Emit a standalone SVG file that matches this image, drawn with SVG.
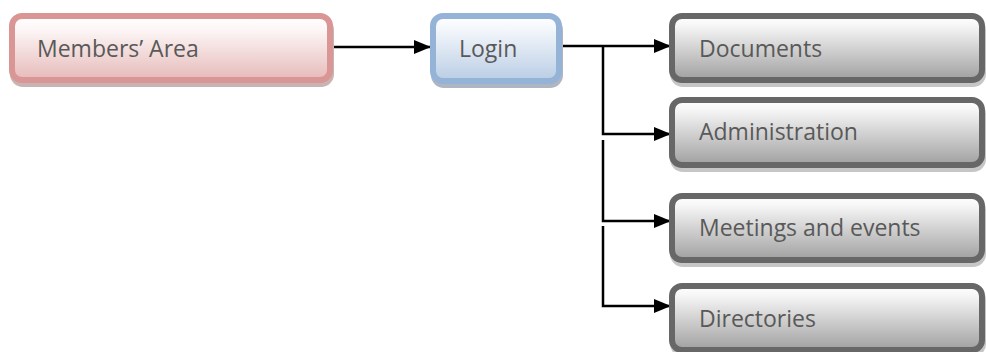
<svg xmlns="http://www.w3.org/2000/svg" width="986" height="352" viewBox="0 0 986 352">
  <defs>
    <linearGradient id="gPink" x1="0" y1="0" x2="0" y2="1">
      <stop offset="0" stop-color="#ffffff"/>
      <stop offset="0.2" stop-color="#fdf7f7"/>
      <stop offset="1" stop-color="#e6bab9"/>
    </linearGradient>
    <linearGradient id="gBlue" x1="0" y1="0" x2="0" y2="1">
      <stop offset="0" stop-color="#ffffff"/>
      <stop offset="0.2" stop-color="#f4f7fb"/>
      <stop offset="1" stop-color="#b9cde5"/>
    </linearGradient>
    <linearGradient id="gGray" x1="0" y1="0" x2="0" y2="1">
      <stop offset="0" stop-color="#ffffff"/>
      <stop offset="0.15" stop-color="#f6f6f6"/>
      <stop offset="1" stop-color="#a0a0a0"/>
    </linearGradient>
    <marker id="arrow" markerUnits="userSpaceOnUse" markerWidth="17" markerHeight="14" refX="17" refY="7" orient="auto">
      <path d="M0,0 L17,7 L0,14 Z" fill="#000"/>
    </marker>
  </defs>
  <style>
    .lbl { font-family: "Open Sans", "Noto Sans", "Liberation Sans", sans-serif; font-size: 23px; fill: #595959; }
    .pink { fill: url(#gPink); stroke: #d99694; stroke-width: 6; }
    .blue { fill: url(#gBlue); stroke: #95b3d7; stroke-width: 6; }
    .gray { fill: url(#gGray); stroke: #676767; stroke-width: 6; }
    .shadowP { fill: none; stroke: #c9b3b3; stroke-width: 6; }
    .shadowB { fill: none; stroke: #adb6c2; stroke-width: 6; }
    .shadowG { fill: none; stroke: #c6c6c6; stroke-width: 6; }
    .conn { fill: none; stroke: #000; stroke-width: 2.5; }
  </style>

  <g id="connectors">
    <path class="conn" d="M333,47 L431,47" marker-end="url(#arrow)"/>
    <path class="conn" d="M555,46 L671,46" marker-end="url(#arrow)"/>
    <path class="conn" d="M603,46 L603,134 L671,134" marker-end="url(#arrow)"/>
    <path class="conn" d="M603,140 L603,221 L671,221" marker-end="url(#arrow)"/>
    <path class="conn" d="M603,226 L603,306 L671,306" marker-end="url(#arrow)"/>
  </g>

  <g id="node-members">
    <rect class="shadowP" x="13" y="20" width="318" height="64" rx="10"/>
    <rect class="pink" x="12" y="16" width="318" height="64" rx="10"/>
    <text class="lbl" x="37" y="57">Members’ Area</text>
  </g>

  <g id="node-login">
    <rect class="shadowB" x="434" y="20" width="126" height="65" rx="10"/>
    <rect class="blue" x="433" y="16" width="126" height="65" rx="10"/>
    <text class="lbl" x="459" y="57">Login</text>
  </g>

  <g id="node-documents">
    <rect class="shadowG" x="673" y="20" width="310" height="64" rx="10"/>
    <rect class="gray" x="672" y="16" width="310" height="64" rx="10"/>
    <text class="lbl" x="699" y="57">Documents</text>
  </g>

  <g id="node-administration">
    <rect class="shadowG" x="673" y="104" width="310" height="65" rx="10"/>
    <rect class="gray" x="672" y="100" width="310" height="65" rx="10"/>
    <text class="lbl" x="699" y="140">Administration</text>
  </g>

  <g id="node-meetings">
    <rect class="shadowG" x="673" y="200" width="310" height="64" rx="10"/>
    <rect class="gray" x="672" y="196" width="310" height="64" rx="10"/>
    <text class="lbl" x="699" y="236">Meetings and events</text>
  </g>

  <g id="node-directories">
    <rect class="shadowG" x="673" y="290" width="310" height="64" rx="10"/>
    <rect class="gray" x="672" y="286" width="310" height="64" rx="10"/>
    <text class="lbl" x="699" y="327">Directories</text>
  </g>
</svg>
